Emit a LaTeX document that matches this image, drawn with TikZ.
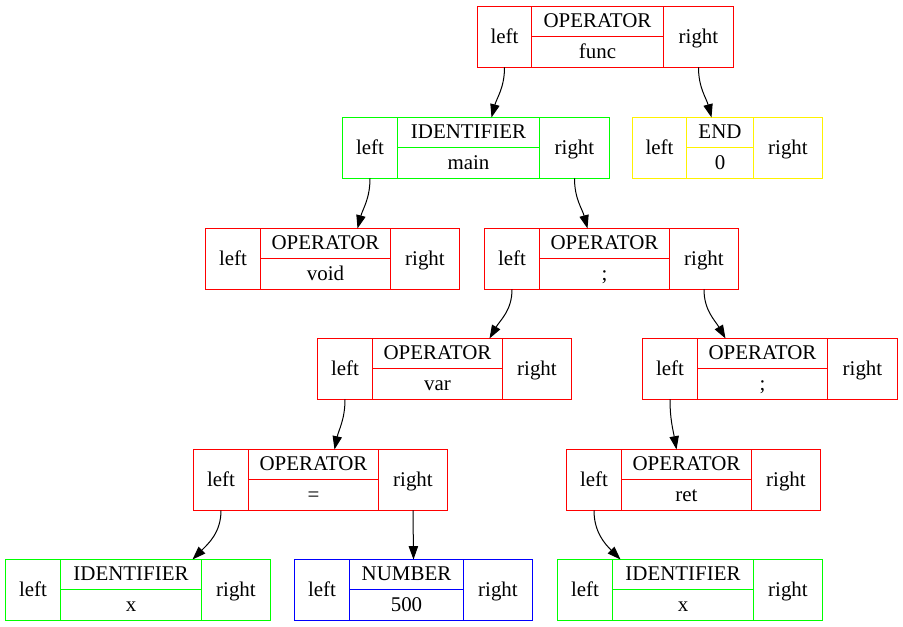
\documentclass[tikz,border=0pt]{standalone}
\usepackage{fontspec}
\setmainfont{Liberation Serif}
\usepackage{tikz}
\usetikzlibrary{calc,arrows.meta}

\newcommand\px{0.75pt}
\tikzset{
	cell/.style={draw=#1, line width=\px, minimum height=61*\px, inner sep=0pt, outer sep=0pt},
	lbl/.style={inner sep=0pt, text height=10pt, text depth=0.7pt},
	edge/.style={line width=\px, -{Triangle[length=10pt,width=7pt]}}
}
% name, x, y, widths (left, middle, right), colour, upper text, lower text
\newcommand\recnode[9]{%
	\node[cell=#7, minimum width=#4*\px, anchor=north west] (#1-l) at (#2,#3) {};
	\node[cell=#7, minimum width=#5*\px, anchor=north west] (#1-m) at (#1-l.north east) {};
	\node[cell=#7, minimum width=#6*\px, anchor=north west] (#1-r) at (#1-m.north east) {};
	\draw[draw=#7, line width=\px] (#1-m.west) -- (#1-m.east);
	\node[lbl] (#1-lt) at (#1-l) {left};
	\node[lbl] (#1-rt) at (#1-r) {right};
	\node[lbl] (#1-t) at ($(#1-m.center)!.5!(#1-m.north)$) {#8};
	\node[lbl] (#1-b) at ($(#1-m.center)!.5!(#1-m.south)$) {#9};
	\coordinate (#1) at ($(#1-l.north west)!.5!(#1-r.north east)$);
}

\begin{document}
\begin{tikzpicture}[x=\px, y=\px, font=\fontsize{15.7}{18}\selectfont]
	\useasboundingbox (0,0) rectangle (903,627);
	
	\begin{scope}[shift={(0.5,-0.5)}]
	\recnode{func}{477}{621}{54}{132}{70}{red}{OPERATOR}{func}
	\recnode{main}{342}{510}{55}{142}{70}{green}{IDENTIFIER}{main}
	\recnode{end}{632}{510}{54}{67}{69}{yellow}{END}{0}
	\recnode{void}{205}{399}{55}{130}{69}{red}{OPERATOR}{void}
	\recnode{seqa}{484}{399}{55}{130}{69}{red}{OPERATOR}{;}
	\recnode{var}{317}{289}{55}{130}{69}{red}{OPERATOR}{var}
	\recnode{seqb}{642}{289}{55}{130}{70}{red}{OPERATOR}{;}
	\recnode{assign}{193}{178}{55}{130}{69}{red}{OPERATOR}{=}
	\recnode{ret}{566}{178}{55}{130}{69}{red}{OPERATOR}{ret}
	\recnode{xa}{5}{68}{55}{141}{69}{green}{IDENTIFIER}{x}
	\recnode{num}{294}{68}{55}{114}{69}{blue}{NUMBER}{500}
	\recnode{xb}{557}{68}{55}{141}{69}{green}{IDENTIFIER}{x}
	\end{scope}
	
	\draw[edge] (func-l.south) to[out=-90,in=75] ($(main)+(15.5,0)$);
	\draw[edge] (func-r.south) to[out=-90,in=105] ($(end)+(-16,0)$);
	\draw[edge] (main-l.south) to[out=-90,in=75] ($(void)+(25,0)$);
	\draw[edge] (main-r.south) to[out=-90,in=105] ($(seqa)+(-24,0)$);
	\draw[edge] (seqa-l.south) to[out=-90,in=60] ($(var)+(45,0)$);
	\draw[edge] (seqa-r.south) to[out=-90,in=120] ($(seqb)+(-44.5,0)$);
	\draw[edge] (var-l.south) to[out=-90,in=78] ($(assign)+(14,0)$);
	\draw[edge] (seqb-l.south) to[out=-90,in=100] ($(ret)+(-17,0)$);
	\draw[edge] (assign-l.south) to[out=-90,in=45] ($(xa)+(54.5,0)$);
	\draw[edge] (assign-r.south) -- (num);
	\draw[edge] (ret-l.south) to[out=-90,in=135] ($(xb)+(-69.5,0)$);
\end{tikzpicture}
\end{document}
